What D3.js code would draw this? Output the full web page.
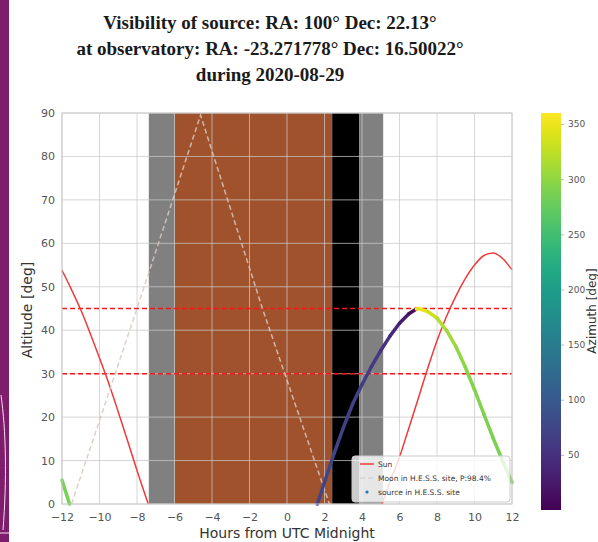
<!DOCTYPE html>
<html>
<head>
<meta charset="utf-8">
<script src="https://cdn.jsdelivr.net/npm/d3@7"></script>
<style>
  html, body { margin: 0; padding: 0; background: #fff; }
  svg { display: block; }
</style>
</head>
<body>
<div id="chart"></div>
<script>
// values
var titleLines = [
    'Visibility of source: RA: 100\u00b0 Dec: 22.13\u00b0',
    'at observatory: RA: -23.271778\u00b0 Dec: 16.50022\u00b0',
    'during 2020-08-29'
];
var xTicks = [-12, -10, -8, -6, -4, -2, 0, 2, 4, 6, 8, 10, 12];
var yTicks = [0, 10, 20, 30, 40, 50, 60, 70, 80, 90];
var azTicks = [50, 100, 150, 200, 250, 300, 350];
var altLimits = [30, 45];

var bandStart = [-7.37, -6.0, 2.41, 3.85];
var bandEnd = [-6.0, 2.41, 3.85, 5.13];
var bandKind = ['twilight', 'moon', 'night', 'twilight'];

var sunHours = [-12, -11.5, -11, -10.5, -10, -9.5, -9, -8.5, -8, -7.4,
    5.07, 5.5, 6.0, 6.5, 7.0, 7.5, 8.0, 8.5, 9.0, 9.5, 10.0, 10.5, 11.0, 11.5, 12.0];
var sunAlt = [53.8, 49.4, 44.7, 39.3, 33.6, 27.7, 21.2, 14.5, 7.7, 0,
    0, 5.2, 10.8, 17.5, 24.3, 31.2, 37.6, 43.1, 47.8, 51.8, 55.0, 57.2, 57.8, 56.5, 53.9];

var moonHours = [-11.49, -8.0, -4.61, -1.31, 2.26];
var moonAlt = [0, 45, 89.5, 45, 0];

var srcHours = [-12, -11.6, 1.62, 2.0, 2.5, 3.0, 3.5, 4.0, 4.5, 5.0, 5.5, 6.0, 6.5, 6.9,
    7.0, 7.5, 8.0, 8.5, 9.0, 9.5, 10.0, 10.5, 11.0, 11.5, 12.0];
var srcAlt = [5.5, 0, 0, 5, 11.5, 17.5, 23, 27.5, 31.6, 35.3, 38.7, 41.6, 43.8, 44.9,
    45, 44.3, 42.8, 40.0, 36.3, 31.6, 26.3, 20.7, 15.1, 9.9, 5];
var srcAz = [286, 285, 74, 73.5, 72.5, 71, 69, 66, 62, 56, 48, 36, 20, 4,
    357, 340, 324, 312, 303, 297, 293, 290, 288, 287, 286];

var legendLabels = ['Sun', 'Moon in H.E.S.S. site, P:98.4%', 'source in H.E.S.S. site'];

var svg = d3.select('#chart')
    .append('svg')
    .attr('width', 598)
    .attr('height', 542);

// slide edge on the left of the screenshot
svg.append('rect')
    .attr('x', 0).attr('y', 0)
    .attr('width', 9).attr('height', 542)
    .attr('fill', '#801c6c');
svg.append('path')
    .attr('d', 'M1,395 C6,430 7,480 3,530 M0,533 L9,533')
    .attr('fill', 'none')
    .attr('stroke', '#f4dff0')
    .attr('stroke-width', 1);

// title
svg.append('g')
    .selectAll('text')
    .data(titleLines)
    .enter()
    .append('text')
    .attr('x', 270)
    .attr('y', function (d, i) { return 29 + i * 26; })
    .attr('text-anchor', 'middle')
    .attr('font-family', 'Liberation Serif, serif')
    .attr('font-weight', 'bold')
    .attr('font-size', 19)
    .attr('fill', '#1a1a1a')
    .text(function (d) { return d; });

var x = d3.scaleLinear().domain([-12, 12]).range([62, 512]);
var y = d3.scaleLinear().domain([0, 90]).range([504, 113]);
var az = d3.scaleLinear().domain([0, 360]).range([510, 113]);

var bandColor = { twilight: '#808080', moon: '#a0522d', night: '#000000' };

// shaded night parts
svg.append('g')
    .selectAll('rect')
    .data(bandStart)
    .enter()
    .append('rect')
    .attr('x', function (d) { return x(d); })
    .attr('y', y(90))
    .attr('width', function (d, i) { return x(bandEnd[i]) - x(d); })
    .attr('height', y(0) - y(90))
    .attr('fill', function (d, i) { return bandColor[bandKind[i]]; });

// grid
var grid = svg.append('g')
    .attr('stroke', '#c8c8c8')
    .attr('stroke-opacity', 0.75)
    .attr('stroke-width', 1);
grid.selectAll('line.v')
    .data(xTicks)
    .enter()
    .append('line')
    .attr('class', 'v')
    .attr('x1', function (d) { return x(d); })
    .attr('x2', function (d) { return x(d); })
    .attr('y1', y(0))
    .attr('y2', y(90));
grid.selectAll('line.h')
    .data(yTicks)
    .enter()
    .append('line')
    .attr('class', 'h')
    .attr('x1', x(-12))
    .attr('x2', x(12))
    .attr('y1', function (d) { return y(d); })
    .attr('y2', function (d) { return y(d); });

// altitude limits
svg.append('g')
    .selectAll('line')
    .data(altLimits)
    .enter()
    .append('line')
    .attr('x1', x(-12))
    .attr('x2', x(12))
    .attr('y1', function (d) { return y(d); })
    .attr('y2', function (d) { return y(d); })
    .attr('stroke', '#f01818')
    .attr('stroke-width', 1.5)
    .attr('stroke-dasharray', '5,3');

// split a track where it is below the horizon
function runs(hours, alt) {
    var out = [], cur = [];
    for (var i = 0; i < hours.length; i++) {
        if (cur.length && hours[i] - hours[i - 1] > 1.5) {
            out.push(cur);
            cur = [];
        }
        cur.push([hours[i], alt[i]]);
    }
    out.push(cur);
    return out;
}

var line = d3.line()
    .x(function (d) { return x(d[0]); })
    .y(function (d) { return y(d[1]); })
    .curve(d3.curveMonotoneX);

svg.append('g')
    .selectAll('path')
    .data(runs(sunHours, sunAlt))
    .enter()
    .append('path')
    .attr('d', line)
    .attr('fill', 'none')
    .attr('stroke', '#f03a3a')
    .attr('stroke-width', 1.5);

svg.append('path')
    .datum(moonHours.map(function (h, i) { return [h, moonAlt[i]]; }))
    .attr('d', d3.line()
        .x(function (d) { return x(d[0]); })
        .y(function (d) { return y(d[1]); }))
    .attr('fill', 'none')
    .attr('stroke', '#d8c8c0')
    .attr('stroke-opacity', 0.85)
    .attr('stroke-width', 1.5)
    .attr('stroke-dasharray', '5,3');

// source track coloured by azimuth
var segs = [];
for (var i = 0; i < srcHours.length - 1; i++) {
    if (srcHours[i + 1] - srcHours[i] > 1.5) continue;
    var a0 = srcAz[i], a1 = srcAz[i + 1];
    var mid = Math.abs(a1 - a0) > 180 ? a1 : (a0 + a1) / 2;
    segs.push({ h0: srcHours[i], h1: srcHours[i + 1], v0: srcAlt[i], v1: srcAlt[i + 1], az: mid });
}
svg.append('g')
    .selectAll('line')
    .data(segs)
    .enter()
    .append('line')
    .attr('x1', function (d) { return x(d.h0); })
    .attr('y1', function (d) { return y(d.v0); })
    .attr('x2', function (d) { return x(d.h1); })
    .attr('y2', function (d) { return y(d.v1); })
    .attr('stroke', function (d) { return d3.interpolateViridis(d.az / 360); })
    .attr('stroke-width', 3.5)
    .attr('stroke-linecap', 'round');

// frame
svg.append('rect')
    .attr('x', x(-12)).attr('y', y(90))
    .attr('width', x(12) - x(-12)).attr('height', y(0) - y(90))
    .attr('fill', 'none')
    .attr('stroke', '#cccccc')
    .attr('stroke-width', 1);

// axes
var xAxis = svg.append('g')
    .attr('transform', 'translate(0,' + y(0) + ')')
    .call(d3.axisBottom(x).tickValues(xTicks).tickSize(0).tickPadding(9));
var yAxis = svg.append('g')
    .attr('transform', 'translate(' + x(-12) + ',0)')
    .call(d3.axisLeft(y).tickValues(yTicks).tickSize(0).tickPadding(7));
[xAxis, yAxis].forEach(function (g) {
    g.select('.domain').remove();
    g.selectAll('text')
        .attr('font-family', 'DejaVu Sans, sans-serif')
        .attr('font-size', 11)
        .attr('fill', '#555');
});

svg.append('text')
    .attr('x', 287)
    .attr('y', 538)
    .attr('text-anchor', 'middle')
    .attr('font-family', 'DejaVu Sans, sans-serif')
    .attr('font-size', 14)
    .attr('fill', '#333')
    .text('Hours from UTC Midnight');

svg.append('text')
    .attr('transform', 'translate(32,310) rotate(-90)')
    .attr('text-anchor', 'middle')
    .attr('font-family', 'DejaVu Sans, sans-serif')
    .attr('font-size', 14)
    .attr('fill', '#333')
    .text('Altitude [deg]');

// legend
var lg = svg.append('g');
lg.append('rect')
    .attr('x', 352).attr('y', 456)
    .attr('width', 158).attr('height', 46)
    .attr('rx', 3)
    .attr('fill', '#fff')
    .attr('fill-opacity', 0.8)
    .attr('stroke', '#cccccc');
lg.selectAll('text')
    .data(legendLabels)
    .enter()
    .append('text')
    .attr('x', 378)
    .attr('y', function (d, i) { return 467 + i * 14; })
    .attr('font-family', 'DejaVu Sans, sans-serif')
    .attr('font-size', 7.5)
    .attr('fill', '#333')
    .text(function (d) { return d; });
lg.append('line')
    .attr('x1', 360).attr('x2', 374)
    .attr('y1', 464).attr('y2', 464)
    .attr('stroke', '#f03a3a').attr('stroke-width', 1.5);
lg.append('line')
    .attr('x1', 360).attr('x2', 374)
    .attr('y1', 478).attr('y2', 478)
    .attr('stroke', '#d2d2d2').attr('stroke-width', 1.5)
    .attr('stroke-dasharray', '5,3');
lg.append('circle')
    .attr('cx', 367).attr('cy', 492).attr('r', 1.6)
    .attr('fill', '#1f77b4');

// colour bar
var grad = svg.append('defs')
    .append('linearGradient')
    .attr('id', 'viridis')
    .attr('x1', 0).attr('y1', 1).attr('x2', 0).attr('y2', 0);
grad.selectAll('stop')
    .data(d3.range(0, 1.0001, 0.05))
    .enter()
    .append('stop')
    .attr('offset', function (d) { return d; })
    .attr('stop-color', function (d) { return d3.interpolateViridis(d); });
svg.append('rect')
    .attr('x', 541).attr('y', az(360))
    .attr('width', 20).attr('height', az(0) - az(360))
    .attr('fill', 'url(#viridis)');
var cb = svg.append('g')
    .attr('transform', 'translate(561,0)')
    .call(d3.axisRight(az).tickValues(azTicks).tickSize(3).tickPadding(4));
cb.select('.domain').remove();
cb.selectAll('line').attr('stroke', '#bbb');
cb.selectAll('text')
    .attr('font-family', 'DejaVu Sans, sans-serif')
    .attr('font-size', 9)
    .attr('fill', '#555');
svg.append('text')
    .attr('transform', 'translate(596,311) rotate(-90)')
    .attr('text-anchor', 'middle')
    .attr('font-family', 'DejaVu Sans, sans-serif')
    .attr('font-size', 12)
    .attr('fill', '#333')
    .text('Azimuth [deg]');
</script>
</body>
</html>
